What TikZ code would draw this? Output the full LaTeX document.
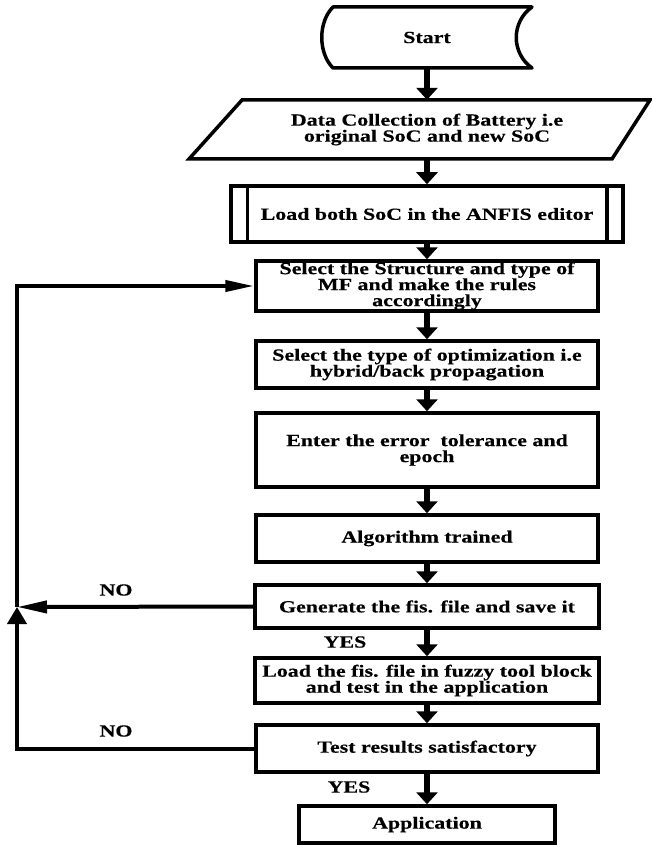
\documentclass[tikz,border=0pt]{standalone}
\usepackage{fontspec}
\setmainfont{Liberation Serif}[FakeStretch=1.29, BoldFeatures={FakeBold=0.4}]
\usetikzlibrary{arrows.meta}
\begin{document}
\begin{tikzpicture}[x=1pt,y=-1pt,
  every node/.style={font=\fontsize{17}{16}\selectfont\bfseries},
  box/.style={draw, line width=3.5pt, rectangle, inner sep=0pt, align=center, minimum width=342pt},
  txt/.style={inner sep=0pt, align=center},
  flow/.style={line width=5.5pt, -{Triangle[width=21pt,length=12pt]}},
  back/.style={line width=4pt},
  lbl/.style={inner sep=0pt}]
\useasboundingbox (0,0) rectangle (651,845);

% Start (stored data shape)
\node[txt, minimum width=199pt, minimum height=61pt] (start) at (427,37.5) {Start};
\draw[line width=3.5pt, line join=round] (333,7) -- (532,7) .. controls (511,22) and (511,53) .. (532,68)
  -- (333,68) .. controls (318,53) and (318,22) .. (333,7) -- cycle;

% Data (parallelogram)
\node[txt, minimum width=350pt, minimum height=59pt] (data) at (427,129.5) {Data Collection of Battery i.e\\original SoC and new SoC};
\draw[line width=3.5pt, line join=miter] (242,100) -- (650,100) -- (612,159) -- (189,159) -- cycle;

% Load (predefined process)
\node[box, minimum width=392pt, minimum height=56pt] (load) at (427,214) {Load both SoC in the ANFIS editor};
\draw[line width=3.5pt] ([xshift=18pt]load.north west) -- ([xshift=18pt]load.south west);
\draw[line width=3.5pt] ([xshift=-18pt]load.north east) -- ([xshift=-18pt]load.south east);

\node[box, minimum height=50pt] (struct) at (427,286) {Select the Structure and type of\\MF and make the rules\\accordingly};
\node[box, minimum height=47pt] (opt) at (427,364.5) {Select the type of optimization i.e\\hybrid/back propagation};
\node[box, minimum height=74pt] (enter) at (427,450) {Enter the error\ \ tolerance and\\epoch};
\node[box, minimum height=47pt] (alg) at (427,538.5) {Algorithm trained};
\node[box, minimum width=344pt, minimum height=43pt] (gen) at (427,606.5) {Generate the fis. file and save it};
\node[box, minimum width=344pt, minimum height=45pt] (fis) at (427,680.5) {Load the fis. file in fuzzy tool block\\and test in the application};
\node[box, minimum height=47pt] (test) at (427,748.5) {Test results satisfactory};
\node[box, minimum width=256pt, minimum height=37pt] (app) at (427,824.5) {Application};

% main flow
\draw[flow] (start.south) -- (data.north);
\draw[flow] (data.south) -- (load.north);
\draw[flow] (load.south) -- (struct.north);
\draw[flow] (struct.south) -- (opt.north);
\draw[flow] (opt.south) -- (enter.north);
\draw[flow] (enter.south) -- (alg.north);
\draw[flow] (alg.south) -- (gen.north);
\draw[flow] (gen.south) -- (fis.north);
\draw[flow] (fis.south) -- (test.north);
\draw[flow] (test.south) -- (app.north);

% feedback
\coordinate (junc) at (17,607);
\draw[back, -{Triangle[length=30pt,width=12pt]}] (gen.west) -- (junc);
\draw[back, -{Triangle[length=17pt,width=19pt]}] (test.west) -| (junc);
\draw[back, -{Triangle[length=29pt,width=11pt]}] (junc) |- (struct.west);

% labels
\node[lbl] (no1) at (116,590) {NO};
\node[lbl] (yes1) at (345,642) {YES};
\node[lbl] (no2) at (116,731) {NO};
\node[lbl] (yes2) at (349,787) {YES};
\end{tikzpicture}
\end{document}
